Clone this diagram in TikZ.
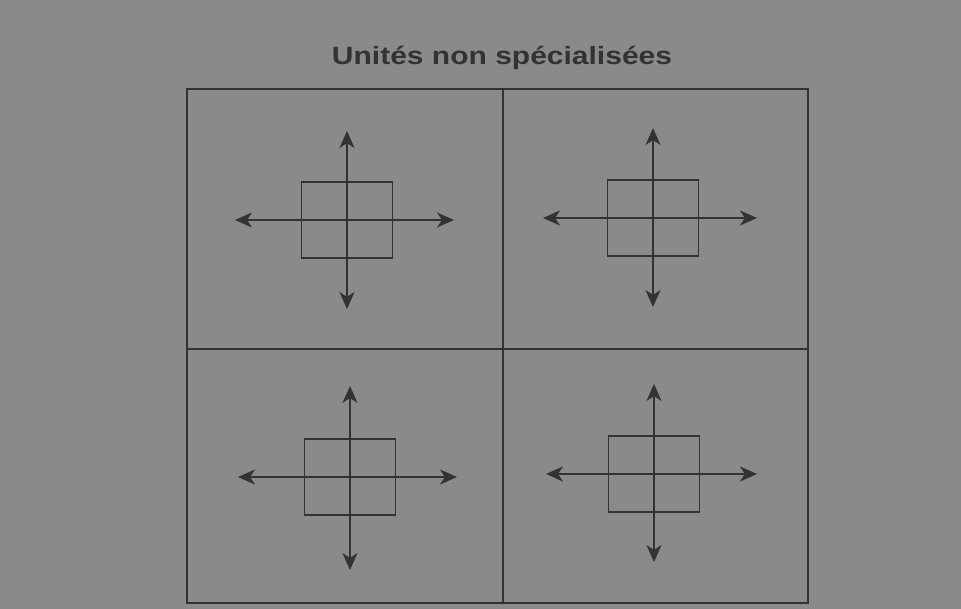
\documentclass[tikz,border=0pt]{standalone}
\usepackage{fontspec}
\setmainfont{Liberation Sans}
\usetikzlibrary{arrows.meta}
\definecolor{paper}{gray}{0.54}
\definecolor{ink}{gray}{0.2}
\tikzset{
  frame/.style={draw=ink, line width=1.8pt},
  unit/.style={draw=ink, line width=1.8pt, minimum width=91pt, minimum height=76pt, inner sep=0pt},
  dir/.style={draw=ink, line width=1.8pt, -{Stealth[length=17pt,width=15pt,inset=5pt]}},
  title/.style={font=\bfseries\fontsize{25}{28}\selectfont, text=ink}
}
\begin{document}
\begin{tikzpicture}[x=1pt,y=-1pt]
\fill[paper] (0,0) rectangle (961,609);
\useasboundingbox (0,0) rectangle (961,609);
\node[title] (t) at (502,58) {\scalebox{1.2}[1]{Unités non spécialisées}};
\draw[frame] (187,89) rectangle (808,603);
\coordinate (mt) at (503,89); \coordinate (mb) at (503,603);
\coordinate (ml) at (187,349); \coordinate (mr) at (808,349);
\draw[frame] (mt) -- (mb);
\draw[frame] (ml) -- (mr);
% unit 1
\node[unit] (u1) at (347,220) {};
\coordinate (u1n) at (347,131); \coordinate (u1s) at (347,309);
\coordinate (u1w) at (235,220); \coordinate (u1e) at (454,220);
\draw[dir] (u1.center) -- (u1n); \draw[dir] (u1.center) -- (u1s);
\draw[dir] (u1.center) -- (u1w); \draw[dir] (u1.center) -- (u1e);
% unit 2
\node[unit] (u2) at (653,218) {};
\coordinate (u2n) at (653,128); \coordinate (u2s) at (653,307);
\coordinate (u2w) at (543,218); \coordinate (u2e) at (757,218);
\draw[dir] (u2.center) -- (u2n); \draw[dir] (u2.center) -- (u2s);
\draw[dir] (u2.center) -- (u2w); \draw[dir] (u2.center) -- (u2e);
% unit 3
\node[unit] (u3) at (350,477) {};
\coordinate (u3n) at (350,386); \coordinate (u3s) at (350,570);
\coordinate (u3w) at (238,477); \coordinate (u3e) at (457,477);
\draw[dir] (u3.center) -- (u3n); \draw[dir] (u3.center) -- (u3s);
\draw[dir] (u3.center) -- (u3w); \draw[dir] (u3.center) -- (u3e);
% unit 4
\node[unit] (u4) at (654,474) {};
\coordinate (u4n) at (654,384); \coordinate (u4s) at (654,562);
\coordinate (u4w) at (546,474); \coordinate (u4e) at (757,474);
\draw[dir] (u4.center) -- (u4n); \draw[dir] (u4.center) -- (u4s);
\draw[dir] (u4.center) -- (u4w); \draw[dir] (u4.center) -- (u4e);
\end{tikzpicture}
\end{document}
